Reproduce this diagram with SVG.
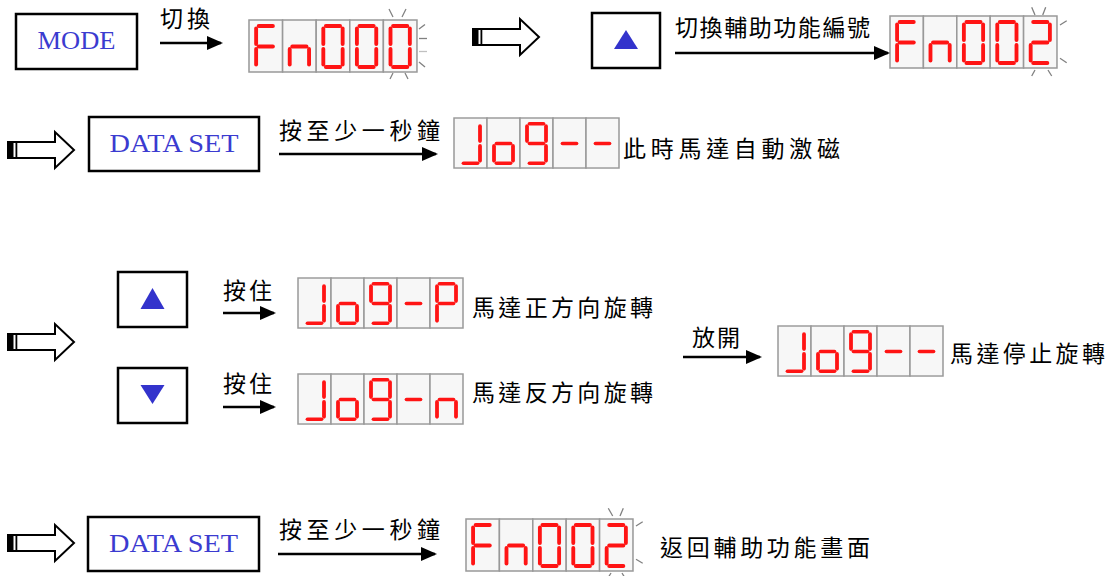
<svg xmlns="http://www.w3.org/2000/svg" xmlns:xlink="http://www.w3.org/1999/xlink" width="1111" height="576" viewBox="0 0 1111 576">
<style>
.seg{stroke:#ff1414;stroke-width:3.8;stroke-linecap:round;fill:none}
.cell{fill:#f7f7f7;stroke:#999;stroke-width:1.5}
.btn{fill:#fff;stroke:#000;stroke-width:2.5}
.btxt{font-family:"Liberation Serif",serif;font-size:25px;fill:#3b3bd0;text-anchor:middle}
.cjk{font-family:"Noto Sans CJK TC","Noto Sans CJK SC",sans-serif;font-size:23px;fill:#000}
.conn{stroke:#000;stroke-width:2.5;fill:none;marker-end:url(#ah)}
.hol{fill:#fff;stroke:#000;stroke-width:2}
.glow{stroke:#808080;stroke-width:1.3}
.glowl{stroke:#c0c0c0;stroke-width:1.3}
.tri{fill:#3333cc}
</style>
<defs>
<marker id="ah" markerUnits="userSpaceOnUse" markerWidth="16" markerHeight="14" refX="14" refY="7" orient="auto"><path d="M0,0 L16,7 L0,14 Z" fill="#000"/></marker>
<path id="sa" class="seg" d="M9.5 6H23.5"/>
<path id="sb" class="seg" d="M26 8.5V24"/>
<path id="sc" class="seg" d="M26 29V44.5"/>
<path id="sd" class="seg" d="M9.5 47H23.5"/>
<path id="se" class="seg" d="M7 29V44.5"/>
<path id="sf" class="seg" d="M7 8.5V24"/>
<path id="sg" class="seg" d="M9.5 26.5H23.5"/>
<g id="frame"><rect class="cell" x="0" y="0" width="33" height="52"/><rect class="cell" x="33" y="0" width="33" height="52"/><rect class="cell" x="66" y="0" width="33" height="52"/><rect class="cell" x="99" y="0" width="33" height="52"/><rect class="cell" x="132" y="0" width="33" height="52"/></g>
<g id="gF"><use href="#sa"/><use href="#sf"/><use href="#se"/><use href="#sg"/></g>
<g id="gn"><use href="#sg"/><use href="#se"/><use href="#sc"/></g>
<g id="g0"><use href="#sa"/><use href="#sb"/><use href="#sc"/><use href="#sd"/><use href="#se"/><use href="#sf"/></g>
<g id="g2"><use href="#sa"/><use href="#sb"/><use href="#sg"/><use href="#se"/><use href="#sd"/></g>
<g id="gJ"><use href="#sb"/><use href="#sc"/><use href="#sd"/></g>
<g id="go"><use href="#sg"/><use href="#sc"/><use href="#sd"/><use href="#se"/></g>
<g id="g9"><use href="#sa"/><use href="#sb"/><use href="#sc"/><use href="#sd"/><use href="#sf"/><use href="#sg"/></g>
<g id="gm"><use href="#sg"/></g>
<g id="gP"><use href="#sa"/><use href="#sb"/><use href="#sf"/><use href="#se"/><use href="#sg"/></g>
<g id="hollow"><path class="hol" d="M0,-8 H47 V-18 L66,0 L47,18 V8 H0 Z"/><rect x="0" y="-8" width="5.5" height="16" fill="#000"/><rect x="7.5" y="-8" width="1.8" height="16" fill="#000"/></g>
</defs>

<!-- buttons -->
<g id="btn-mode"><rect class="btn" x="16" y="14" width="121" height="55"/><text class="btxt" x="76.5" y="49" textLength="78" lengthAdjust="spacingAndGlyphs">MODE</text></g>
<g id="btn-up1"><rect class="btn" x="592" y="13" width="68" height="55"/><path class="tri" d="M614,49 L626,30 L638,49 Z"/></g>
<g id="btn-dataset1"><rect class="btn" x="89" y="117" width="170" height="54"/><text class="btxt" x="174" y="152" textLength="129" lengthAdjust="spacingAndGlyphs">DATA SET</text></g>
<g id="btn-up2"><rect class="btn" x="118" y="272" width="69" height="55"/><path class="tri" d="M140.5,309 L152.5,288 L164.5,309 Z"/></g>
<g id="btn-down"><rect class="btn" x="118" y="368" width="69" height="55"/><path class="tri" d="M140.5,385 L164.5,385 L152.5,404 Z"/></g>
<g id="btn-dataset2"><rect class="btn" x="88" y="517" width="171" height="54"/><text class="btxt" x="173.5" y="552" textLength="129" lengthAdjust="spacingAndGlyphs">DATA SET</text></g>

<!-- displays -->
<g id="disp-fn000" transform="translate(249,20) scale(1.018,1)"><use href="#frame"/><use href="#gF"/><use href="#gn" x="33"/><use href="#g0" x="66"/><use href="#g0" x="99"/><use href="#g0" x="132"/></g>
<g id="glow-fn000"><line class="glow" x1="389" y1="9" x2="393" y2="17"/><line class="glow" x1="406" y1="9" x2="402" y2="17"/><line class="glow" x1="419" y1="29" x2="425" y2="24.5"/><line class="glow" x1="419" y1="38.5" x2="427" y2="38.5"/><line class="glowl" x1="419" y1="51.5" x2="427" y2="51.5"/><line class="glow" x1="419" y1="62" x2="425" y2="67"/><line class="glow" x1="393" y1="73" x2="390" y2="79"/><line class="glow" x1="405" y1="73" x2="408" y2="79"/></g>

<g id="disp-fn002a" transform="translate(890,16) scale(1.012,1)"><use href="#frame"/><use href="#gF"/><use href="#gn" x="33"/><use href="#g0" x="66"/><use href="#g0" x="99"/><use href="#g2" x="132"/></g>
<g id="glow-fn002a"><line class="glow" x1="1031.7" y1="7.3" x2="1035" y2="15"/><line class="glow" x1="1045.7" y1="7.3" x2="1042.7" y2="15"/><line class="glow" x1="1060" y1="25" x2="1066.7" y2="20.7"/><line class="glow" x1="1060" y1="58.3" x2="1066.7" y2="62.7"/><line class="glow" x1="1035" y1="70" x2="1031.7" y2="76"/><line class="glow" x1="1048" y1="70" x2="1051.7" y2="76"/></g>

<g id="disp-jog1" transform="translate(454,118) scale(1,0.962)"><use href="#frame"/><use href="#gJ"/><use href="#go" x="33"/><use href="#g9" x="66"/><use href="#gm" x="99"/><use href="#gm" x="132"/></g>
<g id="disp-jogp" transform="translate(298,278) scale(1,0.962)"><use href="#frame"/><use href="#gJ"/><use href="#go" x="33"/><use href="#g9" x="66"/><use href="#gm" x="99"/><use href="#gP" x="132"/></g>
<g id="disp-jogn" transform="translate(298,374) scale(1,0.962)"><use href="#frame"/><use href="#gJ"/><use href="#go" x="33"/><use href="#g9" x="66"/><use href="#gm" x="99"/><use href="#gn" x="132"/></g>
<g id="disp-jog2" transform="translate(778,326) scale(1,0.962)"><use href="#frame"/><use href="#gJ"/><use href="#go" x="33"/><use href="#g9" x="66"/><use href="#gm" x="99"/><use href="#gm" x="132"/></g>

<g id="disp-fn002b" transform="translate(466,519) scale(1.012,1)"><use href="#frame"/><use href="#gF"/><use href="#gn" x="33"/><use href="#g0" x="66"/><use href="#g0" x="99"/><use href="#g2" x="132"/></g>
<g id="glow-fn002b"><line class="glow" x1="608.3" y1="508.3" x2="612.7" y2="516"/><line class="glow" x1="623.3" y1="508.3" x2="620" y2="516"/><line class="glow" x1="636" y1="526" x2="642.7" y2="521.7"/><line class="glow" x1="636" y1="559.3" x2="642.7" y2="563.3"/><line class="glow" x1="611" y1="573" x2="608" y2="578"/><line class="glow" x1="622" y1="573" x2="625" y2="578"/></g>

<!-- hollow step arrows -->
<g id="step1" transform="translate(473,37)"><use href="#hollow"/></g>
<g id="step2" transform="translate(8,150)"><use href="#hollow"/></g>
<g id="step3" transform="translate(8,342)"><use href="#hollow"/></g>
<g id="step4" transform="translate(8,543)"><use href="#hollow"/></g>

<!-- labels -->
<g id="labels">
<text class="cjk" x="160" y="27" textLength="50" lengthAdjust="spacing">切換</text>
<text class="cjk" x="675" y="36" textLength="195" lengthAdjust="spacing">切換輔助功能編號</text>
<text class="cjk" x="279" y="139" textLength="161" lengthAdjust="spacing">按至少一秒鐘</text>
<text class="cjk" x="623" y="157" textLength="217" lengthAdjust="spacing">此時馬達自動激磁</text>
<text class="cjk" x="223" y="299" textLength="49" lengthAdjust="spacing">按住</text>
<text class="cjk" x="223" y="392" textLength="49" lengthAdjust="spacing">按住</text>
<text class="cjk" x="472" y="316" textLength="181" lengthAdjust="spacing">馬達正方向旋轉</text>
<text class="cjk" x="472" y="401" textLength="181" lengthAdjust="spacing">馬達反方向旋轉</text>
<text class="cjk" x="692" y="346" textLength="48" lengthAdjust="spacing">放開</text>
<text class="cjk" x="950" y="362" textLength="155" lengthAdjust="spacing">馬達停止旋轉</text>
<text class="cjk" x="279" y="538" textLength="161" lengthAdjust="spacing">按至少一秒鐘</text>
<text class="cjk" x="660" y="556" textLength="210" lengthAdjust="spacing">返回輔助功能畫面</text>
</g>

<!-- connectors -->
<g id="connectors">
<line class="conn" x1="160" y1="43" x2="221" y2="43"/>
<line class="conn" x1="675" y1="53" x2="888" y2="53"/>
<line class="conn" x1="279" y1="154" x2="436" y2="154"/>
<line class="conn" x1="223" y1="313" x2="274" y2="313"/>
<line class="conn" x1="223" y1="407" x2="274" y2="407"/>
<line class="conn" x1="683" y1="357" x2="760" y2="357"/>
<line class="conn" x1="278" y1="554" x2="435" y2="554"/>
</g>
</svg>
